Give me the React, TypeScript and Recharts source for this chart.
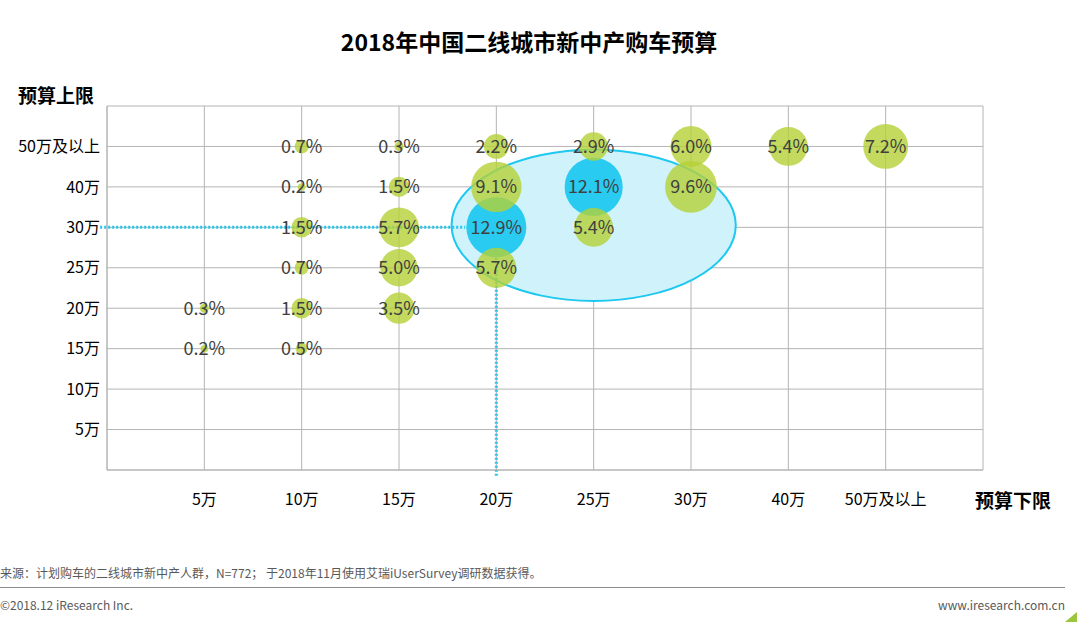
import React from 'react';
import {
  ScatterChart,
  Scatter,
  XAxis,
  YAxis,
  ZAxis,
  CartesianGrid,
  ReferenceArea,
  ReferenceLine,
  LabelList,
} from 'recharts';

// tick labels, index 1..8 on both axes (0 and 9 are the plot edges)
const lowerLabels = ['', '5万', '10万', '15万', '20万', '25万', '30万', '40万', '50万及以上', ''];
const upperLabels = ['', '5万', '10万', '15万', '20万', '25万', '30万', '40万', '50万及以上', ''];
const axisTicks = [0, 1, 2, 3, 4, 5, 6, 7, 8, 9];

// x = budget lower bound index, y = budget upper bound index, v = share (%)
const greenPoints = [
  { x: 2, y: 8, v: 0.7 },
  { x: 3, y: 8, v: 0.3 },
  { x: 4, y: 8, v: 2.2 },
  { x: 5, y: 8, v: 2.9 },
  { x: 6, y: 8, v: 6.0 },
  { x: 7, y: 8, v: 5.4 },
  { x: 8, y: 8, v: 7.2 },
  { x: 2, y: 7, v: 0.2 },
  { x: 3, y: 7, v: 1.5 },
  { x: 4, y: 7, v: 9.1 },
  { x: 6, y: 7, v: 9.6 },
  { x: 2, y: 6, v: 1.5 },
  { x: 3, y: 6, v: 5.7 },
  { x: 5, y: 6, v: 5.4 },
  { x: 2, y: 5, v: 0.7 },
  { x: 3, y: 5, v: 5.0 },
  { x: 4, y: 5, v: 5.7 },
  { x: 1, y: 4, v: 0.3 },
  { x: 2, y: 4, v: 1.5 },
  { x: 3, y: 4, v: 3.5 },
  { x: 1, y: 3, v: 0.2 },
  { x: 2, y: 3, v: 0.5 },
];

// the two biggest cells, highlighted in blue
const bluePoints = [
  { x: 5, y: 7, v: 12.1 },
  { x: 4, y: 6, v: 12.9 },
];

const GREEN = '#b4d137';
const BLUE = '#1ec8f0';
const FONT = "'Microsoft YaHei', 'Noto Sans CJK SC', sans-serif";

const pct = (v: any) => `${Number(v).toFixed(1)}%`;

// ellipse inscribed in the reference area box
const EllipseShape = (props: any) => {
  const { x, y, width, height } = props;
  return (
    <ellipse
      cx={x + width / 2}
      cy={y + height / 2}
      rx={width / 2}
      ry={height / 2}
      fill="#d0f3fb"
      stroke={BLUE}
      strokeWidth={2}
    />
  );
};

export default function App() {
  return (
    <div
      style={{
        position: 'absolute',
        left: 0,
        top: 0,
        width: 1077,
        height: 622,
        background: '#fff',
        fontFamily: FONT,
        overflow: 'hidden',
      }}
    >
      <div
        style={{
          position: 'absolute',
          top: 24,
          left: 0,
          width: 1058,
          textAlign: 'center',
          fontSize: 23,
          fontWeight: 'bold',
          color: '#000',
        }}
      >
        2018年中国二线城市新中产购车预算
      </div>
      <div style={{ position: 'absolute', left: 18, top: 81, fontSize: 19, fontWeight: 'bold', color: '#000' }}>
        预算上限
      </div>
      <div style={{ position: 'absolute', left: 975, top: 486, fontSize: 19, fontWeight: 'bold', color: '#000' }}>
        预算下限
      </div>

      <ScatterChart
        width={1077}
        height={622}
        margin={{ top: 106, right: 94, bottom: 122, left: 0 }}
        style={{ position: 'absolute', left: 0, top: 0 }}
      >
        <CartesianGrid stroke="#b4b4b4" strokeWidth={1} />
        <XAxis
          type="number"
          dataKey="x"
          domain={[0, 9]}
          ticks={axisTicks}
          interval={0}
          tickFormatter={(i: number) => lowerLabels[i]}
          tickLine={false}
          tickSize={0}
          tickMargin={24}
          axisLine={{ stroke: '#b4b4b4' }}
          height={30}
          tick={{ fill: '#000', fontSize: 16, fontFamily: FONT }}
        />
        <YAxis
          type="number"
          dataKey="y"
          domain={[0, 9]}
          ticks={axisTicks}
          interval={0}
          tickFormatter={(i: number) => upperLabels[i]}
          tickLine={false}
          tickSize={0}
          tickMargin={7}
          axisLine={{ stroke: '#b4b4b4' }}
          width={107}
          tick={{ fill: '#000', fontSize: 16, fontFamily: FONT }}
        />
        <ZAxis type="number" dataKey="v" domain={[0, 13]} range={[0, 2850]} />
        <ReferenceArea x1={3.54} x2={6.46} y1={4.18} y2={7.92} shape={<EllipseShape />} />
        <Scatter data={bluePoints} fill={BLUE} fillOpacity={0.94} isAnimationActive={false}>
          <LabelList
            dataKey="v"
            position="center"
            formatter={pct}
            fill="#404040"
            fontSize={18}
            fontFamily={FONT}
          />
        </Scatter>
        <Scatter data={greenPoints} fill={GREEN} fillOpacity={0.8} isAnimationActive={false}>
          <LabelList
            dataKey="v"
            position="center"
            formatter={pct}
            fill="#404040"
            fontSize={18}
            fontFamily={FONT}
          />
        </Scatter>
        <ReferenceLine
          segment={[{ x: -0.07, y: 6 }, { x: 3.68, y: 6 }]}
          stroke={BLUE}
          strokeWidth={3}
          strokeDasharray="2 2"
          ifOverflow="visible"
        />
        <ReferenceLine
          segment={[{ x: 4, y: 5.25 }, { x: 4, y: -0.15 }]}
          stroke={BLUE}
          strokeWidth={3}
          strokeDasharray="2 2"
          ifOverflow="visible"
        />
      </ScatterChart>

      <div style={{ position: 'absolute', left: 0, top: 564, fontSize: 12, color: '#595959' }}>
        来源：计划购车的二线城市新中产人群，N=772； 于2018年11月使用艾瑞iUserSurvey调研数据获得。
      </div>
      <div style={{ position: 'absolute', left: 0, top: 587, width: 1065, height: 1, background: '#8c8c8c' }} />
      <div style={{ position: 'absolute', left: 0, top: 596, fontSize: 12, color: '#595959' }}>
        ©2018.12 iResearch Inc.
      </div>
      <div style={{ position: 'absolute', right: 12, top: 596, fontSize: 12, color: '#595959' }}>
        www.iresearch.com.cn
      </div>
      <div
        style={{
          position: 'absolute',
          right: 0,
          bottom: 0,
          width: 0,
          height: 0,
          borderLeft: '12px solid transparent',
          borderBottom: '10px solid #9bc53d',
        }}
      />
    </div>
  );
}
